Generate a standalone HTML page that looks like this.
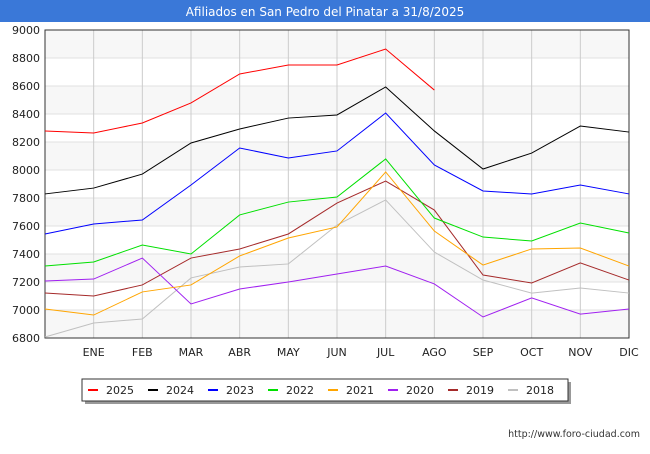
<!DOCTYPE html>
<html><head><meta charset="utf-8"><style>
body{margin:0;width:650px;height:450px;background:#fff;font-family:"DejaVu Sans",sans-serif;overflow:hidden}
</style></head><body>
<svg width="650" height="450" id="svg" font-family="DejaVu Sans, sans-serif">
<rect x="0" y="0" width="650" height="22" fill="#3a78d8"/>
<text x="325" y="16" text-anchor="middle" font-size="12" fill="#fff">Afiliados en San Pedro del Pinatar a 31/8/2025</text>
<g id="plot"></g>
<text x="640" y="437" text-anchor="end" font-size="9.5" fill="#333">http://www.foro-ciudad.com</text>
</svg>
<script>
const months=["","ENE","FEB","MAR","ABR","MAY","JUN","JUL","AGO","SEP","OCT","NOV","DIC"];
const yTicks=[6800,7000,7200,7400,7600,7800,8000,8200,8400,8600,8800,9000];
const years=["2025","2024","2023","2022","2021","2020","2019","2018"];
const colors=["#ff0000","#000000","#0000ff","#00e000","#ffa500","#a020f0","#a52a2a","#c0c0c0"];
const s2025=[8279,8264,8336,8479,8686,8750,8750,8864,8571];
const s2024=[7829,7871,7971,8193,8293,8371,8393,8593,8279,8007,8121,8314,8271];
const s2023=[7543,7614,7643,7893,8157,8086,8136,8407,8036,7850,7829,7893,7829];
const s2022=[7314,7343,7464,7400,7679,7771,7807,8079,7657,7521,7493,7621,7550];
const s2021=[7007,6964,7129,7179,7386,7514,7593,7986,7564,7321,7436,7443,7314];
const s2020=[7207,7221,7371,7043,7150,7200,7257,7314,7186,6950,7086,6971,7007];
const s2019=[7121,7100,7179,7371,7436,7543,7764,7921,7714,7250,7193,7336,7214];
const s2018=[6807,6907,6936,7229,7307,7329,7607,7786,7414,7214,7121,7157,7121];
const series=[s2025,s2024,s2023,s2022,s2021,s2020,s2019,s2018];
const X0=45,X1=629,Y0=30,Y1=338,VMIN=6800,VMAX=9000;
const xs=i=>X0+i*(X1-X0)/(months.length-1);
const ys=v=>Y1-(v-VMIN)/(VMAX-VMIN)*(Y1-Y0);
const NS="http://www.w3.org/2000/svg";
const g=document.getElementById('plot');
function mk(t,a,p){const e=document.createElementNS(NS,t);for(const k in a)e.setAttribute(k,a[k]);(p||g).appendChild(e);return e;}
for(let i=0;i<yTicks.length-1;i++){
  if(i%2==0){const r=mk('rect',{x:X0,y:ys(yTicks[i+1]),width:X1-X0,height:ys(yTicks[i])-ys(yTicks[i+1]),fill:'#f7f7f7'});
  
  }
}
yTicks.forEach(v=>{
  const l=mk('line',{x1:X0,x2:X1,y1:ys(v),y2:ys(v),stroke:'#e0e0e0','stroke-width':1});
  
  
  const t=mk('text',{x:X0-5,y:ys(v)+4,'text-anchor':'end','font-size':11,fill:'#222'});t.textContent=v;
  
  
});
months.forEach((m,i)=>{
  if(i>0){const l=mk('line',{x1:xs(i),x2:xs(i),y1:Y0,y2:Y1,stroke:'#ccc','stroke-width':1});
  
  }
  if(!m)return;
  const t=mk('text',{x:xs(i),y:356,'text-anchor':'middle','font-size':11,fill:'#222'});t.textContent=m;
  
  
});
const ax=mk('rect',{x:X0,y:Y0,width:X1-X0,height:Y1-Y0,fill:'none',stroke:'#333','stroke-width':1});


for(let k=series.length-1;k>=0;k--){
  const p=mk('polyline',{points:series[k].map((v,i)=>xs(i)+','+ys(v)).join(' '),fill:'none',stroke:colors[k],'stroke-width':1});
  
  
}
const lg=mk('g',{});


mk('rect',{x:85,y:382,width:486,height:22,fill:'#999'},lg);
mk('rect',{x:82,y:379,width:486,height:22,fill:'#fff',stroke:'#333'},lg);
years.forEach((y,k)=>{
  const e=mk('g',{},lg);
  
  
  const x=88+k*60;
  mk('line',{x1:x,x2:x+10,y1:390,y2:390,stroke:colors[k],'stroke-width':2},e);
  const t=mk('text',{x:x+18,y:394,'font-size':11,fill:'#222'},e);t.textContent=y;
});
</script>
</body></html>
